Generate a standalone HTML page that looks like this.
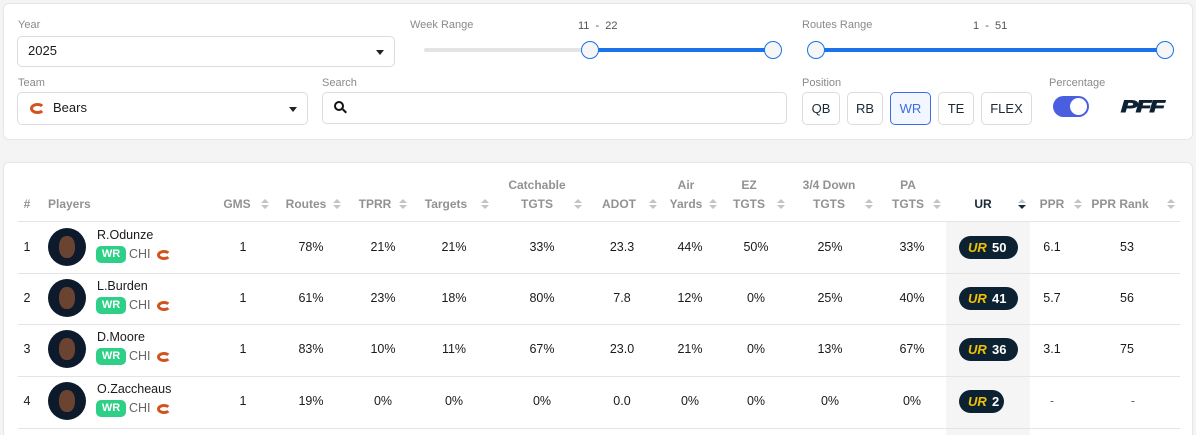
<!DOCTYPE html>
<html style="width:1196px;height:435px;overflow:hidden"><head><meta charset="utf-8">
<style>
*{box-sizing:border-box;margin:0;padding:0}
body{width:1196px;height:435px;background:#f4f4f4;font-family:"Liberation Sans",sans-serif;position:relative;overflow:hidden;color:#1a1a1a}
.a{position:absolute}
.card{position:absolute;background:#fff;border:1px solid #e6e6e6;border-radius:6px}
.lbl{position:absolute;font-size:11px;color:#8a8a8a}
.box{position:absolute;border:1px solid #dcdcdc;border-radius:5px;background:#fff}
.caret{position:absolute;width:0;height:0;border-left:4px solid transparent;border-right:4px solid transparent;border-top:5px solid #222}
.thumb{position:absolute;width:18px;height:18px;border-radius:50%;border:1.5px solid #1a73e8;background:#f6f6f6}
.pbtn{position:absolute;top:92px;height:33px;border:1px solid #dcdcdc;border-radius:5px;font-size:13px;display:flex;align-items:center;justify-content:center;color:#1b2a38}
.h{position:absolute;font-size:12px;color:#929292;font-weight:bold;text-align:center;transform:translateX(-50%);line-height:19px;white-space:nowrap}
.s{position:absolute;width:8px;height:12px}
.s:before{content:"";position:absolute;left:0;top:0;border-left:4px solid transparent;border-right:4px solid transparent;border-bottom:4.5px solid #c4c4c4}
.s:after{content:"";position:absolute;left:0;top:6px;border-left:4px solid transparent;border-right:4px solid transparent;border-top:4.5px solid #c4c4c4}
.s.d:after{border-top-color:#1b2a38}
.c{position:absolute;font-size:12.5px;transform:translateX(-50%);white-space:nowrap;color:#1a1a1a}
.line{position:absolute;left:18px;width:1162px;height:1px;background:#e4e4e4}
.av{position:absolute;left:48px;width:38px;height:38px;border-radius:50%;background:#0c1a2b;overflow:hidden}
.av:after{content:"";position:absolute;left:11px;top:8px;width:16px;height:22px;border-radius:45%;background:#6b4331}
.nm{position:absolute;left:97px;font-size:12.5px}
.wr{position:absolute;left:96px;width:30px;height:17px;border-radius:5px;background:#2ecf86;color:#fff;font-size:11px;font-weight:bold;text-align:center;line-height:17px}
.chi{position:absolute;left:129px;font-size:12.5px;color:#666}
.logo{position:absolute;width:14px;height:10px;border:3px solid #d4531d;border-right-color:transparent;border-radius:50%}
.ur{position:absolute;left:959px;width:59px;height:23px;border-radius:12px;background:#0c2233;color:#fff;font-weight:bold;font-size:13px;line-height:23px}
.ur b{color:#f2c200;font-size:13px;position:absolute;left:9px;font-style:italic}
.ur span{position:absolute;left:33px}
</style></head><body>

<div class="card" style="left:3px;top:3px;width:1190px;height:137px"></div>
<div class="lbl" style="left:18px;top:19px">Year</div>
<div class="box" style="left:17px;top:36px;width:378px;height:31px"></div>
<div class="a" style="left:28px;top:43px;font-size:13px">2025</div>
<div class="caret" style="left:376px;top:50px"></div>

<div class="lbl" style="left:410px;top:19px">Week Range</div>
<div class="a" style="left:578px;top:20px;font-size:11px;color:#555">11 &nbsp;- &nbsp;22</div>
<div class="a" style="left:424px;top:48px;width:166px;height:4px;background:#e4e4e4;border-radius:2px"></div>
<div class="a" style="left:590px;top:48px;width:183px;height:4px;background:#1a73e8"></div>
<div class="thumb" style="left:581px;top:41px"></div>
<div class="thumb" style="left:764px;top:41px"></div>

<div class="lbl" style="left:802px;top:19px">Routes Range</div>
<div class="a" style="left:973px;top:20px;font-size:11px;color:#555">1 &nbsp;- &nbsp;51</div>
<div class="a" style="left:816px;top:48px;width:349px;height:4px;background:#1a73e8"></div>
<div class="thumb" style="left:807px;top:41px"></div>
<div class="thumb" style="left:1156px;top:41px"></div>

<div class="lbl" style="left:18px;top:77px">Team</div>
<div class="box" style="left:17px;top:92px;width:291px;height:33px"></div>
<div class="logo" style="left:30px;top:103px;width:15px;height:11px"></div>
<div class="a" style="left:53px;top:100px;font-size:13px">Bears</div>
<div class="caret" style="left:289px;top:107px"></div>

<div class="lbl" style="left:322px;top:77px">Search</div>
<div class="box" style="left:322px;top:92px;width:465px;height:32px"></div>
<div class="a" style="left:334px;top:101px;width:10px;height:10px;border:2px solid #111;border-radius:50%"></div>
<div class="a" style="left:342px;top:110px;width:5px;height:2px;background:#111;transform:rotate(45deg)"></div>

<div class="lbl" style="left:802px;top:77px">Position</div>
<div class="pbtn" style="left:802px;width:38px">QB</div>
<div class="pbtn" style="left:847px;width:36px">RB</div>
<div class="pbtn" style="left:890px;width:41px;border-color:#3b6fe0;background:#f2f6ff;color:#3b6fe0">WR</div>
<div class="pbtn" style="left:938px;width:36px">TE</div>
<div class="pbtn" style="left:981px;width:51px">FLEX</div>

<div class="lbl" style="left:1049px;top:77px">Percentage</div>
<div class="a" style="left:1053px;top:96px;width:36px;height:21px;border-radius:11px;background:#4a5fe0"></div>
<div class="a" style="left:1070px;top:98px;width:17px;height:17px;border-radius:50%;background:#fff"></div>
<div class="a" style="left:1121px;top:97px;font-size:17px;font-weight:900;font-style:italic;color:#0c2233;letter-spacing:-1px;transform:scaleX(1.45);transform-origin:left;-webkit-text-stroke:1px #0c2233">PFF</div>

<div class="card" style="left:3px;top:162px;width:1190px;height:273px;border-bottom:none;border-radius:6px 6px 0 0"></div>
<div class="a" style="left:946px;top:221px;width:84px;height:214px;background:#f5f5f5"></div>

<div class="h" style="left:27px;top:195px">#</div>
<div class="a" style="left:48px;top:195px;font-size:12px;color:#929292;font-weight:bold;line-height:19px">Players</div>
<div class="h" style="left:237px;top:195px">GMS</div><div class="s" style="left:261px;top:199px"></div>
<div class="h" style="left:306px;top:195px">Routes</div><div class="s" style="left:333px;top:199px"></div>
<div class="h" style="left:375px;top:195px">TPRR</div><div class="s" style="left:399px;top:199px"></div>
<div class="h" style="left:446px;top:195px">Targets</div><div class="s" style="left:481px;top:199px"></div>
<div class="h" style="left:537px;top:176px">Catchable<br>TGTS</div><div class="s" style="left:574px;top:199px"></div>
<div class="h" style="left:619px;top:195px">ADOT</div><div class="s" style="left:649px;top:199px"></div>
<div class="h" style="left:686px;top:176px">Air<br>Yards</div><div class="s" style="left:709px;top:199px"></div>
<div class="h" style="left:749px;top:176px">EZ<br>TGTS</div><div class="s" style="left:777px;top:199px"></div>
<div class="h" style="left:829px;top:176px">3/4 Down<br>TGTS</div><div class="s" style="left:865px;top:199px"></div>
<div class="h" style="left:908px;top:176px">PA<br>TGTS</div><div class="s" style="left:933px;top:199px"></div>
<div class="h" style="left:983px;top:195px;color:#1b2a38">UR</div><div class="s d" style="left:1018px;top:199px"></div>
<div class="h" style="left:1052px;top:195px">PPR</div><div class="s" style="left:1074px;top:199px"></div>
<div class="h" style="left:1120px;top:195px">PPR Rank</div><div class="s" style="left:1167px;top:199px"></div>

<div class="line" style="top:221px"></div>
<div class="line" style="top:273px"></div>
<div class="line" style="top:324px"></div>
<div class="line" style="top:376px"></div>
<div class="line" style="top:428px"></div>

<!-- row 1 -->
<div class="c" style="left:27px;top:240px">1</div>
<div class="av" style="top:228px"></div>
<div class="nm" style="top:228px">R.Odunze</div>
<div class="wr" style="top:246px">WR</div><div class="chi" style="top:247px">CHI</div>
<div class="logo" style="left:157px;top:250px"></div>
<div class="c" style="left:243px;top:240px">1</div><div class="c" style="left:311px;top:240px">78%</div><div class="c" style="left:383px;top:240px">21%</div><div class="c" style="left:454px;top:240px">21%</div><div class="c" style="left:542px;top:240px">33%</div><div class="c" style="left:622px;top:240px">23.3</div><div class="c" style="left:690px;top:240px">44%</div><div class="c" style="left:756px;top:240px">50%</div><div class="c" style="left:830px;top:240px">25%</div><div class="c" style="left:912px;top:240px">33%</div>
<div class="ur" style="top:236px"><b>UR</b><span>50</span></div>
<div class="c" style="left:1052px;top:240px">6.1</div><div class="c" style="left:1127px;top:240px">53</div>

<!-- row 2 -->
<div class="c" style="left:27px;top:291px">2</div>
<div class="av" style="top:279px"></div>
<div class="nm" style="top:279px">L.Burden</div>
<div class="wr" style="top:297px">WR</div><div class="chi" style="top:298px">CHI</div>
<div class="logo" style="left:157px;top:301px"></div>
<div class="c" style="left:243px;top:291px">1</div><div class="c" style="left:311px;top:291px">61%</div><div class="c" style="left:383px;top:291px">23%</div><div class="c" style="left:454px;top:291px">18%</div><div class="c" style="left:542px;top:291px">80%</div><div class="c" style="left:622px;top:291px">7.8</div><div class="c" style="left:690px;top:291px">12%</div><div class="c" style="left:756px;top:291px">0%</div><div class="c" style="left:830px;top:291px">25%</div><div class="c" style="left:912px;top:291px">40%</div>
<div class="ur" style="top:287px"><b>UR</b><span>41</span></div>
<div class="c" style="left:1052px;top:291px">5.7</div><div class="c" style="left:1127px;top:291px">56</div>

<!-- row 3 -->
<div class="c" style="left:27px;top:342px">3</div>
<div class="av" style="top:330px"></div>
<div class="nm" style="top:330px">D.Moore</div>
<div class="wr" style="top:348px">WR</div><div class="chi" style="top:349px">CHI</div>
<div class="logo" style="left:157px;top:352px"></div>
<div class="c" style="left:243px;top:342px">1</div><div class="c" style="left:311px;top:342px">83%</div><div class="c" style="left:383px;top:342px">10%</div><div class="c" style="left:454px;top:342px">11%</div><div class="c" style="left:542px;top:342px">67%</div><div class="c" style="left:622px;top:342px">23.0</div><div class="c" style="left:690px;top:342px">21%</div><div class="c" style="left:756px;top:342px">0%</div><div class="c" style="left:830px;top:342px">13%</div><div class="c" style="left:912px;top:342px">67%</div>
<div class="ur" style="top:338px"><b>UR</b><span>36</span></div>
<div class="c" style="left:1052px;top:342px">3.1</div><div class="c" style="left:1127px;top:342px">75</div>

<!-- row 4 -->
<div class="c" style="left:27px;top:394px">4</div>
<div class="av" style="top:382px"></div>
<div class="nm" style="top:382px">O.Zaccheaus</div>
<div class="wr" style="top:400px">WR</div><div class="chi" style="top:401px">CHI</div>
<div class="logo" style="left:157px;top:404px"></div>
<div class="c" style="left:243px;top:394px">1</div><div class="c" style="left:311px;top:394px">19%</div><div class="c" style="left:383px;top:394px">0%</div><div class="c" style="left:454px;top:394px">0%</div><div class="c" style="left:542px;top:394px">0%</div><div class="c" style="left:622px;top:394px">0.0</div><div class="c" style="left:690px;top:394px">0%</div><div class="c" style="left:756px;top:394px">0%</div><div class="c" style="left:830px;top:394px">0%</div><div class="c" style="left:912px;top:394px">0%</div>
<div class="ur" style="top:390px;width:45px"><b>UR</b><span>2</span></div>
<div class="c" style="left:1052px;top:394px;color:#666">-</div><div class="c" style="left:1133px;top:394px;color:#666">-</div>

</body></html>
